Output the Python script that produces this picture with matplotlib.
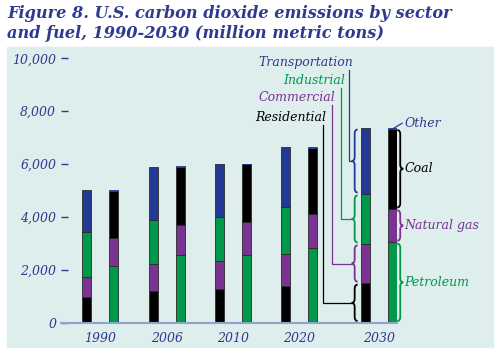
import matplotlib.pyplot as plt
import numpy as np
from matplotlib.patches import Rectangle, PathPatch
from matplotlib.path import Path

# data (million metric tons)
years = ['1990', '2006', '2010', '2020', '2030']
residential = [960, 1200, 1260, 1375, 1490]
commercial = [770, 1020, 1085, 1235, 1485]
industrial = [1690, 1650, 1665, 1765, 1890]
transportation = [1590, 2020, 2005, 2250, 2495]
petroleum = [2145, 2560, 2570, 2810, 3040]
natural_gas = [1035, 1135, 1250, 1310, 1260]
coal = [1815, 2195, 2180, 2490, 3040]
other = [15, 15, 15, 15, 15]

sector_names = ['Residential', 'Commercial', 'Industrial', 'Transportation']
fuel_names = ['Petroleum', 'Natural gas', 'Coal']

navy = '#2e3a8f'
blue = '#233996'
green = '#00984a'
purple = '#7a3391'
black = '#000000'
sector_colors = [black, purple, green, blue]
fuel_colors = [green, purple, black]
label_colors = [black, purple, green, navy]

W, H = 500, 351
fig = plt.figure(figsize=(5, 3.51), dpi=100)
fig.patches.append(Rectangle((7 / W, 1 - 347 / H), 486 / W, 300 / H,
                             transform=fig.transFigure, color='#ddeeed', zorder=-10))

fig.text(7 / W, 1 - 14 / H, 'Figure 8. U.S. carbon dioxide emissions by sector',
         family='DejaVu Serif', weight='bold', style='italic', size=11.6,
         color=navy, va='center', ha='left')
fig.text(7 / W, 1 - 33 / H, 'and fuel, 1990-2030 (million metric tons)',
         family='DejaVu Serif', weight='bold', style='italic', size=11.6,
         color=navy, va='center', ha='left')

ax = fig.add_axes([61 / W, (H - 322.5) / H, 336 / W, 264.2 / H])
ax.set_facecolor('none')
ax.set_xlim(-0.592, 4.476)
ax.set_ylim(0, 10000)
px = 5.068 / 336          # one pixel in x data units
py = 10000 / 264.2        # one pixel in y data units

pos = np.array([0, 1, 2, 3, 4.2])
off = 0.204
bw = 0.136

sectors = [residential, commercial, industrial, transportation]
fuels = [petroleum, natural_gas, coal]

bottom = np.zeros(5)
for vals, c in zip(sectors, sector_colors):
    ax.bar(pos - off, vals, bw, bottom=bottom, color=c, edgecolor='#2a2a2a', linewidth=0.6, zorder=2)
    bottom += np.array(vals)

bottom = np.zeros(5)
for vals, c in zip(fuels, fuel_colors):
    ax.bar(pos + off, vals, bw, bottom=bottom, color=c, edgecolor='#2a2a2a', linewidth=0.6, zorder=2)
    bottom += np.array(vals)
ax.bar(pos + off, other, bw, bottom=bottom, color=blue, edgecolor=blue, linewidth=0.6, zorder=2)
fuel_tot = bottom + np.array(other)

for s in ['top', 'right', 'left']:
    ax.spines[s].set_visible(False)
ax.spines['bottom'].set_color('#8fa3cc')
ax.spines['bottom'].set_linewidth(1.5)
ax.set_yticks(range(0, 10001, 2000))
ax.set_yticklabels([f'{v:,}' for v in range(0, 10001, 2000)])
ax.tick_params(axis='y', direction='in', length=5, width=1, color=navy, pad=3.5,
               labelcolor=navy, labelsize=9)
ax.set_xticks(pos)
ax.set_xticklabels(years)
ax.tick_params(axis='x', length=0, pad=7, labelcolor=navy, labelsize=9)
for t in ax.get_xticklabels() + ax.get_yticklabels():
    t.set_family('DejaVu Serif')
    t.set_style('italic')


def brace(x, y0, y1, side, color):
    # side=-1 -> "{" (tip to the left), side=+1 -> "}"
    d = 6 * px
    r = 4 * py
    ym = (y0 + y1) / 2
    xm = x + side * d / 2
    xt = x + side * d
    verts = [(x, y0), (xm, y0), (xm, y0 + r), (xm, ym - r), (xm, ym), (xt, ym),
             (xm, ym), (xm, ym + r), (xm, y1 - r), (xm, y1), (x, y1)]
    codes = [Path.MOVETO, Path.CURVE3, Path.CURVE3, Path.LINETO, Path.CURVE3, Path.CURVE3,
             Path.CURVE3, Path.CURVE3, Path.LINETO, Path.CURVE3, Path.CURVE3]
    ax.add_patch(PathPatch(Path(verts, codes), fill=False, edgecolor=color, lw=1.3,
                           clip_on=False, zorder=3))
    return xt, ym


gap = 1.5 * py
# sector braces on the 2030 sector bar
xl = pos[4] - off - bw / 2 - 3 * px
label_y = [7754, 8510, 9153, 9834]
line_dx = [-29, -20, -11, -3]
lo = 0
for i, vals in enumerate(sectors):
    hi = lo + vals[4]
    xt, ym = brace(xl, lo + gap, hi - gap, -1, sector_colors[i])
    xv = xt + line_dx[i] * px
    ax.plot([xv, xv, xt], [label_y[i] - 7 * py, ym, ym], color=label_colors[i], lw=0.9,
            clip_on=False, zorder=3)
    ax.text(xv + 4 * px, label_y[i], sector_names[i], ha='right', va='center',
            color=label_colors[i], family='DejaVu Serif', style='italic', size=9)
    lo = hi

# fuel braces on the 2030 fuel bar
xr = pos[4] + off + bw / 2 + 0.5 * px
lo = 0
for i, vals in enumerate(fuels):
    hi = lo + vals[4]
    xt, ym = brace(xr, lo + gap, hi - gap, 1, fuel_colors[i])
    ax.text(xt + 1 * px, ym, fuel_names[i], ha='left', va='center', clip_on=False,
            color=fuel_colors[i], family='DejaVu Serif', style='italic', size=9)
    lo = hi

ty = fuel_tot[4] + 5 * py
ax.plot([pos[4] + off, pos[4] + off + 10 * px], [fuel_tot[4] - 1 * py, ty],
        color=navy, lw=0.9, clip_on=False, zorder=3)
ax.text(pos[4] + off + 12 * px, ty, 'Other', ha='left', va='center', color=navy,
        family='DejaVu Serif', style='italic', size=9)

fig.savefig('out.png', dpi=100)
